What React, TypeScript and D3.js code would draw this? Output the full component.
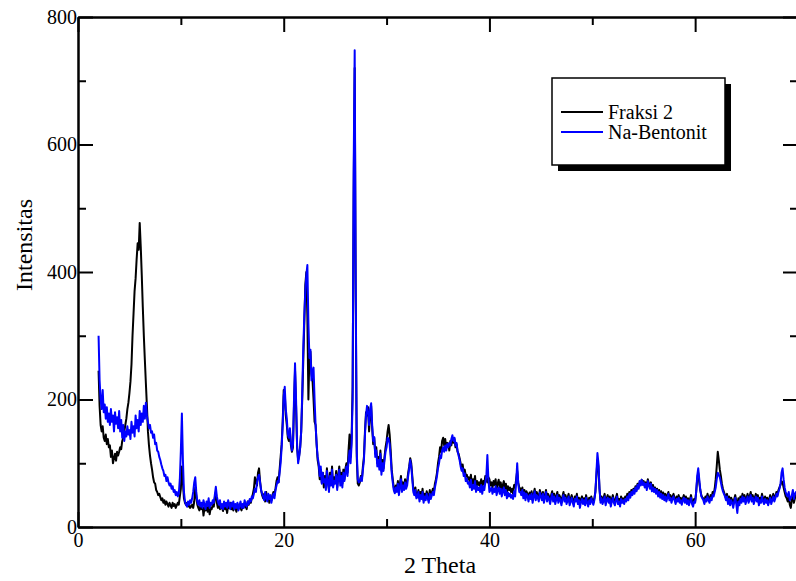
import { useEffect, useRef } from 'react';
import * as d3 from 'd3';

// 2 Theta grid: 2.0 .. 70.0, step 0.1 (one row = one degree)
const thetaStart = 2;
const thetaStep = 0.1;

const fraksi2 = [
  245, 190, 160, 150, 158, 140, 135, 145, 130, 138,
  125, 128, 110, 120, 100, 108, 115, 104, 118, 112,
  118, 125, 122, 135, 140, 150, 160, 170, 185, 195,
  210, 228, 255, 300, 335, 370, 390, 420, 445, 435,
  477, 440, 395, 345, 300, 262, 225, 190, 150, 128,
  112, 100, 90, 78, 70, 68, 58, 55, 50, 52,
  47, 42, 45, 38, 42, 35, 40, 36, 32, 38,
  34, 30, 38, 33, 36, 30, 34, 38, 35, 48,
  60, 95, 70, 45, 38, 35, 38, 32, 36, 30,
  32, 35, 30, 40, 62, 48, 35, 30, 26, 34,
  28, 34, 18, 30, 26, 36, 24, 32, 20, 30,
  28, 35, 32, 45, 55, 38, 30, 36, 28, 34,
  30, 25, 36, 28, 32, 22, 34, 30, 38, 28,
  32, 26, 35, 30, 24, 33, 28, 36, 30, 26,
  34, 30, 38, 32, 28, 40, 35, 42, 38, 45,
  52, 60, 78, 70, 65, 85, 92, 72, 58, 50,
  45, 52, 40, 55, 42, 48, 38, 46, 42, 50,
  55, 50, 60, 72, 78, 70, 90, 110, 130, 165,
  215, 210, 175, 160, 140, 135, 150, 128, 118, 125,
  190, 245, 190, 125, 105, 112, 125, 150, 200, 260,
  320, 380, 400, 330, 200, 270, 275, 240, 230, 200,
  165, 160, 130, 105, 95, 75, 90, 70, 85, 62,
  80, 65, 92, 70, 60, 85, 72, 95, 65, 78,
  70, 88, 62, 80, 95, 72, 85, 68, 90, 75,
  92, 100, 85, 120, 145, 110, 140, 220, 520, 720,
  360, 110, 68, 65, 70, 80, 75, 95, 110, 150,
  180, 175, 188, 150, 175, 190, 155, 130, 140, 115,
  125, 100, 110, 95, 120, 88, 105, 92, 110, 125,
  135, 150, 160, 145, 120, 90, 75, 62, 55, 65,
  60, 72, 55, 68, 80, 58, 70, 62, 75, 65,
  72, 85, 95, 108, 100, 80, 60, 55, 62, 48,
  50, 58, 45, 55, 48, 60, 42, 52, 46, 56,
  50, 44, 58, 48, 54, 60, 55, 68, 75, 85,
  100, 110, 125, 118, 135, 140, 128, 138, 125, 132,
  130, 120, 135, 128, 140, 132, 138, 125, 130, 118,
  115, 108, 100, 92, 98, 85, 90, 80, 82, 75,
  78, 70, 82, 65, 75, 68, 80, 62, 72, 66,
  70, 64, 75, 60, 72, 68, 80, 75, 70, 78,
  75, 65, 70, 62, 72, 66, 75, 60, 68, 74,
  62, 70, 58, 66, 72, 60, 68, 55, 64, 58,
  62, 55, 60, 52, 66, 62, 75, 88, 70, 62,
  60, 55, 62, 50, 58, 48, 56, 52, 45, 54,
  48, 56, 42, 52, 60, 46, 55, 50, 44, 58,
  52, 46, 55, 42, 50, 58, 45, 52, 48, 40,
  50, 56, 44, 52, 40, 48, 55, 42, 50, 46,
  38, 48, 55, 44, 50, 40, 46, 52, 38, 45,
  50, 42, 36, 48, 44, 52, 40, 46, 35, 44,
  48, 40, 45, 38, 50, 42, 35, 46, 40, 48,
  42, 38, 45, 55, 80, 105, 95, 60, 42, 48,
  40, 46, 52, 38, 45, 50, 42, 48, 36, 44,
  50, 42, 38, 46, 52, 40, 44, 36, 48, 42,
  45, 40, 48, 44, 52, 46, 55, 50, 58, 52,
  60, 55, 64, 58, 68, 62, 70, 66, 74, 68,
  72, 65, 70, 62, 75, 68, 64, 70, 60, 66,
  58, 62, 55, 60, 52, 58, 50, 56, 48, 54,
  46, 52, 44, 50, 55, 45, 50, 42, 48, 52,
  45, 40, 48, 44, 50, 42, 46, 38, 45, 50,
  42, 48, 40, 45, 38, 44, 50, 40, 36, 44,
  40, 55, 75, 85, 70, 58, 50, 46, 45, 40,
  48, 44, 52, 46, 42, 50, 45, 55, 52, 60,
  75, 95, 118, 105, 90, 80, 68, 60, 55, 50,
  45, 52, 40, 48, 38, 46, 42, 35, 44, 50,
  40, 34, 45, 38, 48, 42, 52, 44, 50, 40,
  46, 52, 42, 48, 55, 45, 50, 40, 46, 52,
  44, 50, 38, 46, 42, 52, 45, 40, 48, 42,
  46, 38, 44, 50, 40, 46, 52, 44, 48, 55,
  50, 58, 62, 66, 72, 70, 62, 55, 48, 45,
  40, 48, 35, 30, 42, 50, 38, 45, 52, 48,
  50
];

const naBentonit = [
  300, 230, 200, 185, 215, 180, 192, 170, 188, 165,
  178, 160, 185, 165, 175, 150, 180, 162, 172, 155,
  182, 150, 168, 140, 160, 135, 150, 142, 158, 145,
  152, 138, 165, 148, 158, 142, 175, 155, 168, 150,
  182, 160, 178, 165, 190, 170, 195, 175, 165, 155,
  160, 148, 150, 140, 145, 130, 132, 120, 118, 110,
  105, 98, 92, 88, 80, 82, 72, 78, 70, 65,
  68, 60, 64, 55, 58, 50, 55, 48, 52, 75,
  120, 178, 105, 55, 40, 35, 32, 40, 35, 42,
  38, 45, 55, 70, 78, 55, 40, 35, 42, 32,
  38, 30, 42, 35, 28, 40, 33, 45, 30, 38,
  35, 42, 38, 50, 63, 48, 40, 35, 42, 30,
  36, 28, 40, 32, 38, 30, 42, 35, 28, 38,
  32, 40, 28, 36, 30, 38, 26, 34, 40, 30,
  36, 30, 42, 35, 32, 40, 36, 44, 40, 48,
  45, 52, 60, 55, 70, 78, 82, 70, 58, 52,
  48, 42, 55, 45, 40, 52, 44, 50, 38, 46,
  52, 45, 58, 65, 72, 70, 85, 100, 125, 160,
  205, 220, 185, 170, 145, 140, 155, 132, 120, 130,
  200, 257, 200, 130, 100, 110, 125, 150, 210, 280,
  330, 370, 395, 411, 320, 265, 278, 230, 245, 250,
  200, 160, 130, 110, 100, 80, 95, 68, 85, 70,
  75, 58, 88, 72, 55, 80, 65, 90, 62, 72,
  68, 82, 58, 78, 90, 65, 80, 62, 85, 72,
  85, 95, 80, 105, 120, 100, 130, 200, 560, 748,
  380, 120, 75, 70, 72, 78, 72, 90, 105, 145,
  175, 190, 180, 160, 185, 194, 160, 135, 141, 110,
  120, 95, 105, 90, 115, 82, 100, 88, 105, 118,
  125, 140, 138, 130, 110, 85, 70, 58, 53, 62,
  55, 68, 50, 62, 75, 55, 65, 58, 70, 60,
  65, 80, 92, 105, 95, 75, 55, 50, 58, 45,
  47, 55, 40, 50, 44, 55, 38, 48, 42, 52,
  45, 38, 52, 44, 50, 55, 50, 62, 70, 80,
  92, 100, 112, 108, 120, 125, 118, 128, 120, 130,
  125, 132, 128, 138, 144, 135, 140, 128, 132, 120,
  112, 105, 95, 88, 92, 80, 84, 72, 76, 68,
  70, 62, 74, 58, 66, 60, 72, 55, 64, 58,
  62, 55, 66, 52, 64, 58, 70, 80, 113, 75,
  55, 58, 62, 52, 60, 55, 64, 50, 58, 62,
  52, 60, 48, 56, 62, 50, 58, 45, 54, 48,
  52, 46, 50, 44, 56, 48, 70, 100, 68, 55,
  55, 50, 58, 45, 54, 42, 52, 48, 40, 50,
  44, 52, 38, 48, 56, 42, 50, 46, 40, 54,
  48, 42, 52, 38, 46, 55, 40, 48, 44, 36,
  46, 52, 40, 48, 36, 44, 50, 38, 46, 42,
  34, 44, 50, 40, 46, 36, 42, 48, 34, 40,
  46, 38, 32, 44, 40, 48, 36, 42, 30, 40,
  44, 36, 42, 34, 46, 38, 32, 42, 36, 45,
  40, 35, 42, 55, 85, 116, 100, 60, 38, 45,
  36, 42, 48, 34, 42, 46, 38, 44, 32, 40,
  46, 38, 34, 42, 48, 36, 40, 32, 44, 38,
  42, 36, 44, 40, 48, 42, 52, 46, 55, 50,
  58, 52, 62, 56, 66, 60, 72, 65, 74, 66,
  70, 62, 68, 58, 72, 65, 60, 68, 56, 62,
  55, 60, 52, 58, 48, 55, 46, 52, 44, 50,
  42, 48, 40, 46, 52, 42, 46, 38, 44, 48,
  42, 36, 44, 40, 46, 38, 42, 35, 42, 46,
  38, 44, 36, 42, 34, 40, 46, 36, 32, 40,
  38, 55, 80, 92, 75, 58, 48, 45, 42, 36,
  44, 40, 48, 42, 38, 46, 42, 50, 48, 55,
  62, 75, 85, 82, 78, 70, 62, 56, 52, 48,
  42, 48, 36, 44, 34, 42, 38, 30, 40, 46,
  36, 22, 40, 34, 44, 38, 48, 40, 46, 36,
  42, 48, 38, 44, 50, 40, 46, 36, 42, 48,
  40, 46, 34, 42, 38, 48, 40, 36, 44, 38,
  42, 34, 40, 46, 36, 42, 48, 40, 45, 52,
  48, 55, 60, 68, 85, 92, 75, 62, 55, 50,
  48, 55, 42, 45, 50, 58, 44, 52, 55, 50,
  48
];

const seriesNames = ['Fraksi 2', 'Na-Bentonit'];
const seriesColors = ['#000000', '#0000ff'];
const xMajorTicks = [0, 20, 40, 60];
const xMinorTicks = [10, 30, 50, 70];
const yMajorTicks = [0, 200, 400, 600, 800];
const yMinorTicks = [100, 300, 500, 700];

const FONT = '"Liberation Serif", "Times New Roman", serif';

export default function App() {
  const svgRef = useRef<SVGSVGElement>(null);

  useEffect(() => {
    if (!svgRef.current) return;
    const svg = d3.select(svgRef.current);
    svg.selectAll('*').remove();

    const left = 78;
    const right = 798;
    const top = 17;
    const bottom = 527;

    const x = d3.scaleLinear().domain([0, 70]).range([left, right]);
    const y = d3.scaleLinear().domain([0, 800]).range([bottom, top]);

    // Lines (black first, blue on top)
    [fraksi2, naBentonit].forEach((values, k) => {
      const line = d3
        .line<number>()
        .x((_, i) => x(thetaStart + i * thetaStep))
        .y((d) => y(d));
      svg
        .append('path')
        .datum(values)
        .attr('fill', 'none')
        .attr('stroke', seriesColors[k])
        .attr('stroke-width', 2)
        .attr('stroke-linejoin', 'round')
        .attr('d', line);
    });

    const styleAxis = (g: d3.Selection<SVGGElement, unknown, null, undefined>) => {
      g.selectAll('path, line').attr('stroke', '#000').attr('stroke-width', 2);
      g.selectAll('text')
        .attr('fill', '#000')
        .style('font-family', FONT)
        .style('font-size', '20px');
    };

    // Bottom axis
    svg
      .append('g')
      .attr('transform', `translate(0,${bottom})`)
      .call(d3.axisBottom(x).tickValues(xMajorTicks).tickSize(-15).tickSizeOuter(0).tickPadding(6).tickFormat(d3.format('d')))
      .call(styleAxis);
    svg
      .append('g')
      .attr('transform', `translate(0,${bottom})`)
      .call(d3.axisBottom(x).tickValues(xMinorTicks).tickSize(-8).tickSizeOuter(0).tickFormat(() => ''))
      .call(styleAxis);

    // Top axis
    svg
      .append('g')
      .attr('transform', `translate(0,${top})`)
      .call(d3.axisTop(x).tickValues(xMajorTicks).tickSize(-15).tickSizeOuter(0).tickFormat(() => ''))
      .call(styleAxis);
    svg
      .append('g')
      .attr('transform', `translate(0,${top})`)
      .call(d3.axisTop(x).tickValues(xMinorTicks).tickSize(-8).tickSizeOuter(0).tickFormat(() => ''))
      .call(styleAxis);

    // Left axis
    svg
      .append('g')
      .attr('transform', `translate(${left},0)`)
      .call(d3.axisLeft(y).tickValues(yMajorTicks).tickSize(-15).tickSizeOuter(0).tickPadding(1).tickFormat(d3.format('d')))
      .call(styleAxis);
    svg
      .append('g')
      .attr('transform', `translate(${left},0)`)
      .call(d3.axisLeft(y).tickValues(yMinorTicks).tickSize(-8).tickSizeOuter(0).tickFormat(() => ''))
      .call(styleAxis);

    // Right axis
    svg
      .append('g')
      .attr('transform', `translate(${right},0)`)
      .call(d3.axisRight(y).tickValues(yMajorTicks).tickSize(-15).tickSizeOuter(0).tickFormat(() => ''))
      .call(styleAxis);
    svg
      .append('g')
      .attr('transform', `translate(${right},0)`)
      .call(d3.axisRight(y).tickValues(yMinorTicks).tickSize(-8).tickSizeOuter(0).tickFormat(() => ''))
      .call(styleAxis);

    // Axis titles
    svg
      .append('text')
      .attr('x', 440)
      .attr('y', 573)
      .attr('text-anchor', 'middle')
      .style('font-family', FONT)
      .style('font-size', '24px')
      .text('2 Theta');

    svg
      .append('text')
      .attr('transform', 'translate(32,245) rotate(-90)')
      .attr('text-anchor', 'middle')
      .style('font-family', FONT)
      .style('font-size', '24px')
      .text('Intensitas');

    // Legend
    const lg = svg.append('g');
    lg.append('rect')
      .attr('x', 558)
      .attr('y', 84)
      .attr('width', 173)
      .attr('height', 87)
      .attr('fill', '#000');
    lg.append('rect')
      .attr('x', 552)
      .attr('y', 78)
      .attr('width', 173)
      .attr('height', 87)
      .attr('fill', '#fff')
      .attr('stroke', '#000')
      .attr('stroke-width', 1.5);
    seriesNames.forEach((name, i) => {
      const ly = 112 + i * 20;
      lg.append('line')
        .attr('x1', 561)
        .attr('x2', 603)
        .attr('y1', ly)
        .attr('y2', ly)
        .attr('stroke', seriesColors[i])
        .attr('stroke-width', 2);
      lg.append('text')
        .attr('x', 608)
        .attr('y', ly + 7)
        .style('font-family', FONT)
        .style('font-size', '20px')
        .text(name);
    });
  }, []);

  return (
    <div style={{ position: 'absolute', left: 0, top: 0 }}>
      <svg ref={svgRef} width={796} height={581} style={{ display: 'block' }} />
    </div>
  );
}
